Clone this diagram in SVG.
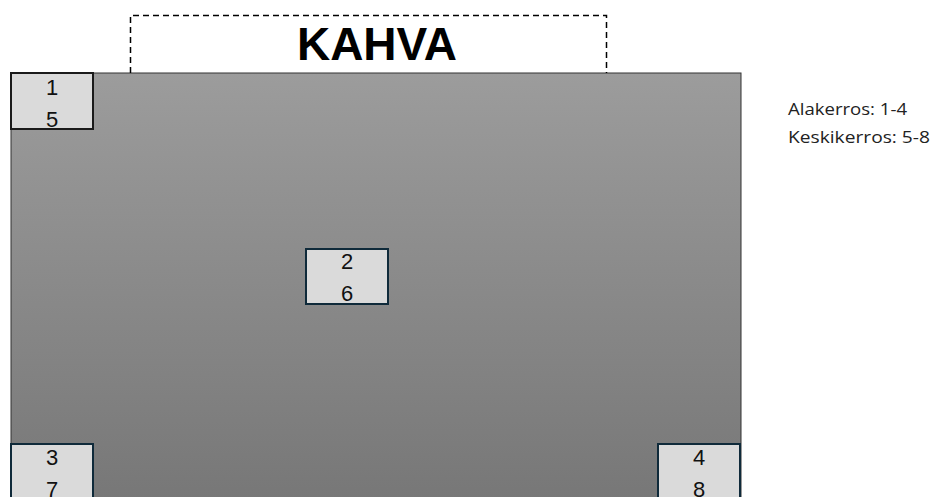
<svg xmlns="http://www.w3.org/2000/svg" width="932" height="497" viewBox="0 0 932 497">
<defs>
<linearGradient id="g" x1="0" y1="0" x2="0" y2="1">
<stop offset="0" stop-color="#9c9c9c"/>
<stop offset="1" stop-color="#767676"/>
</linearGradient>
</defs>
<style>
.box{fill:#dadada;stroke:#0f2a3a;stroke-width:2}
.num{font-family:"Liberation Sans",Arial,sans-serif;font-size:22px;fill:#111;text-anchor:middle}
.note{font-family:"Open Sans","Liberation Sans",sans-serif;font-size:17px;fill:#222}
</style>
<rect width="932" height="497" fill="#fff"/>
<g id="tray">
<rect x="11" y="73" width="730" height="440" fill="url(#g)" stroke="#333" stroke-width="1"/>
</g>
<g id="handle">
<path d="M130.5,73 V15.5 H606.5 V73" fill="none" stroke="#000" stroke-width="1.5" stroke-dasharray="6,4"/>
<text x="377" y="60" font-family="Liberation Sans,Arial,sans-serif" font-weight="bold" font-size="46" text-anchor="middle" fill="#000">KAHVA</text>
</g>
<g id="n1">
<rect class="box" x="11" y="73" width="82" height="56" style="stroke:#1a1a1a"/>
<text class="num" x="52" y="95">1</text>
<text class="num" x="52" y="127">5</text>
</g>
<g id="n2">
<rect class="box" x="306" y="249" width="82" height="55"/>
<text class="num" x="347" y="269">2</text>
<text class="num" x="347" y="301">6</text>
</g>
<g id="n3">
<rect class="box" x="11" y="444" width="82" height="70"/>
<text class="num" x="52" y="465">3</text>
<text class="num" x="52" y="497">7</text>
</g>
<g id="n4">
<rect class="box" x="658" y="444" width="82" height="70"/>
<text class="num" x="699" y="465">4</text>
<text class="num" x="699" y="497">8</text>
</g>
<g id="legend">
<text class="note" x="788" y="115" textLength="119" lengthAdjust="spacingAndGlyphs">Alakerros: 1-4</text>
<text class="note" x="788" y="143" textLength="142" lengthAdjust="spacingAndGlyphs">Keskikerros: 5-8</text>
</g>
<g id="connectors"/>
</svg>
